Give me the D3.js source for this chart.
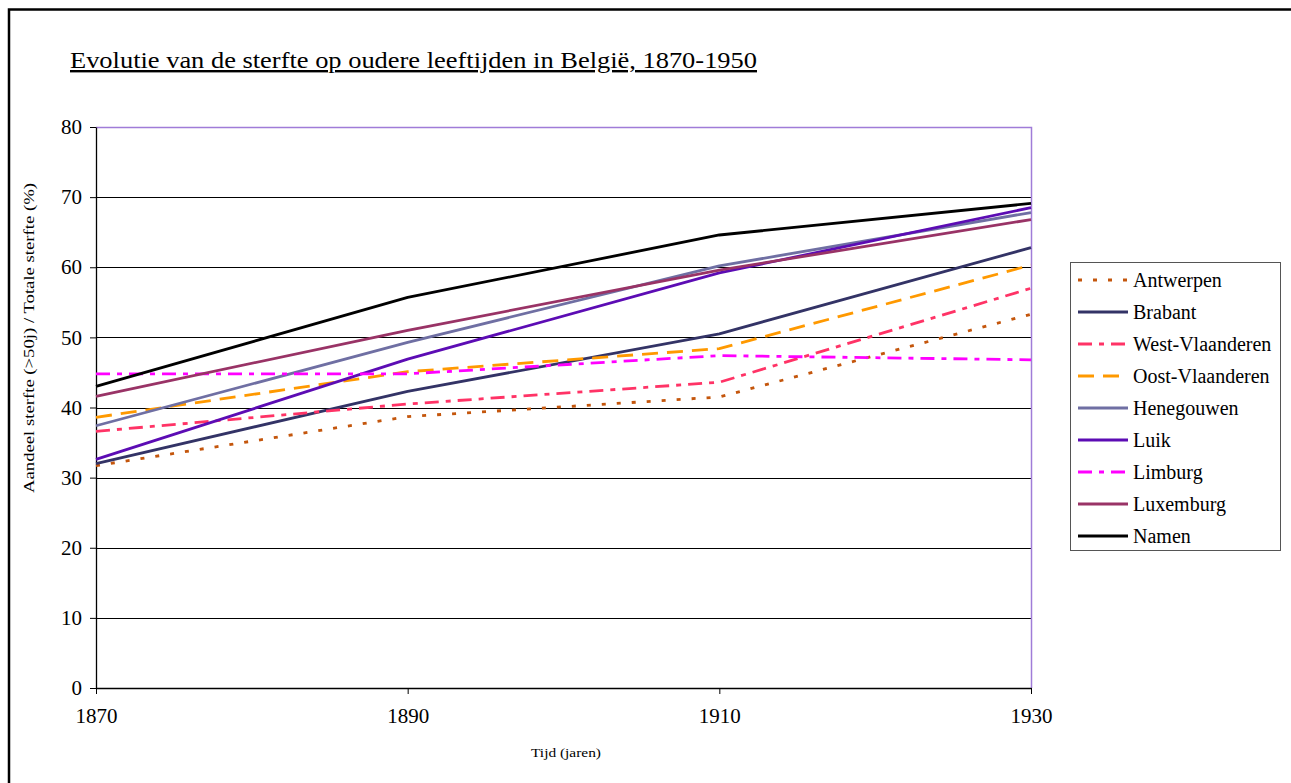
<!DOCTYPE html>
<html>
<head>
<meta charset="utf-8">
<script src="https://cdn.jsdelivr.net/npm/d3@7"></script>
<style>
  html, body { margin: 0; padding: 0; background: #fff; }
  svg { display: block; font-family: "Liberation Serif", "Times New Roman", serif; }
</style>
</head>
<body>
<svg id="chart" width="1291" height="783"></svg>
<script>
// Years on the horizontal axis
const years = [1870, 1890, 1910, 1930];
const yTicks = [0, 10, 20, 30, 40, 50, 60, 70, 80];

// Share of deaths above age 50 in total deaths (%), per province
const provinces = ["Antwerpen", "Brabant", "West-Vlaanderen", "Oost-Vlaanderen",
                   "Henegouwen", "Luik", "Limburg", "Luxemburg", "Namen"];
const antwerpen      = [31.7, 38.7, 41.5, 53.3];
const brabant        = [32.0, 42.3, 50.5, 62.8];
const westVlaanderen = [36.6, 40.5, 43.6, 57.0];
const oostVlaanderen = [38.6, 45.1, 48.4, 60.3];
const henegouwen     = [37.4, 49.3, 60.2, 67.8];
const luik           = [32.6, 46.9, 59.2, 68.5];
const limburg        = [44.8, 44.8, 47.4, 46.8];
const luxemburg      = [41.6, 51.0, 59.6, 66.8];
const namen          = [43.0, 55.7, 64.6, 69.1];

const seriesValues = [antwerpen, brabant, westVlaanderen, oostVlaanderen,
                      henegouwen, luik, limburg, luxemburg, namen];

// Stroke styles per province
const styles = [
  { color: "#c4560c", dash: "4,11" },
  { color: "#333366", dash: null },
  { color: "#ff3366", dash: "14,7,5,7" },
  { color: "#ff9900", dash: "16,9" },
  { color: "#6f6fa3", dash: null },
  { color: "#5c0cb4", dash: null },
  { color: "#ff00ff", dash: "14,7,5,7" },
  { color: "#993366", dash: null },
  { color: "#000000", dash: null }
];

const svg = d3.select("#chart");

// Outer frame
svg.append("rect")
  .attr("x", 9).attr("y", 9.5)
  .attr("width", 1300).attr("height", 800)
  .attr("fill", "none").attr("stroke", "#000").attr("stroke-width", 2.5);

// Title
svg.append("text")
  .attr("x", 70).attr("y", 68)
  .attr("font-size", 24)
  .attr("textLength", 687)
  .attr("lengthAdjust", "spacingAndGlyphs")
  .attr("text-decoration", "underline")
  .attr("fill", "#000")
  .text("Evolutie van de sterfte op oudere leeftijden in België, 1870-1950");

const plot = { left: 96, right: 1031, top: 127, bottom: 688 };

const x = d3.scalePoint().domain(years).range([plot.left, plot.right]);
const y = d3.scaleLinear().domain([0, 80]).range([plot.bottom, plot.top]);

// Horizontal gridlines
svg.append("g")
  .selectAll("line")
  .data(yTicks.filter(t => t > 0 && t < 80))
  .join("line")
  .attr("x1", plot.left).attr("x2", plot.right)
  .attr("y1", d => Math.round(y(d)) + 0.5).attr("y2", d => Math.round(y(d)) + 0.5)
  .attr("stroke", "#000").attr("stroke-width", 1.2);

// Plot area border: top and right edges
svg.append("path")
  .attr("d", `M${plot.left},${plot.top + 0.5}H${plot.right + 0.5}V${plot.bottom}`)
  .attr("fill", "none").attr("stroke", "#a07cd8").attr("stroke-width", 1.5);

// Y axis
const yAxis = svg.append("g")
  .attr("transform", `translate(${plot.left},0)`)
  .call(d3.axisLeft(y).tickValues(yTicks).tickSize(6).tickSizeOuter(0).tickPadding(8));
yAxis.select(".domain").attr("stroke", "#000").attr("stroke-width", 1.3);
yAxis.selectAll(".tick line").attr("stroke", "#000");
yAxis.selectAll(".tick text")
  .attr("font-family", "Liberation Serif, serif")
  .attr("font-size", 21).attr("fill", "#000");

// X axis
const xAxis = svg.append("g")
  .attr("transform", `translate(0,${plot.bottom})`)
  .call(d3.axisBottom(x).tickSize(6).tickSizeOuter(0).tickPadding(14));
xAxis.select(".domain").attr("stroke", "#000").attr("stroke-width", 1.5);
xAxis.selectAll(".tick line").attr("stroke", "#000");
xAxis.selectAll(".tick text")
  .attr("font-family", "Liberation Serif, serif")
  .attr("font-size", 21).attr("fill", "#000");

// Axis titles
svg.append("text")
  .attr("transform", `translate(34,338) rotate(-90)`)
  .attr("text-anchor", "middle")
  .attr("font-size", 14)
  .attr("textLength", 310)
  .attr("lengthAdjust", "spacingAndGlyphs")
  .attr("fill", "#000")
  .text("Aandeel sterfte (>50j) / Totale sterfte (%)");

svg.append("text")
  .attr("x", 566).attr("y", 757)
  .attr("text-anchor", "middle")
  .attr("font-size", 13)
  .attr("textLength", 70)
  .attr("lengthAdjust", "spacingAndGlyphs")
  .attr("fill", "#000")
  .text("Tijd (jaren)");

// Series lines
const line = d3.line()
  .x((d, i) => x(years[i]))
  .y(d => y(d));

svg.append("g")
  .selectAll("path")
  .data(seriesValues)
  .join("path")
  .attr("d", d => line(d))
  .attr("fill", "none")
  .attr("stroke", (d, i) => styles[i].color)
  .attr("stroke-width", 2.8)
  .attr("stroke-linejoin", "round")
  .attr("stroke-dasharray", (d, i) => styles[i].dash);

// Legend
const legend = svg.append("g");
legend.append("rect")
  .attr("x", 1070.5).attr("y", 262.5)
  .attr("width", 210).attr("height", 288)
  .attr("fill", "#fff").attr("stroke", "#555").attr("stroke-width", 1);

const items = legend.selectAll("g.item")
  .data(provinces)
  .join("g")
  .attr("class", "item")
  .attr("transform", (d, i) => `translate(0,${280 + i * 32})`);

items.append("line")
  .attr("x1", 1078).attr("x2", 1128)
  .attr("y1", 0).attr("y2", 0)
  .attr("stroke", (d, i) => styles[i].color)
  .attr("stroke-width", 2.8)
  .attr("stroke-dasharray", (d, i) => styles[i].dash);

items.append("text")
  .attr("x", 1133).attr("y", 7)
  .attr("font-size", 20)
  .attr("fill", "#000")
  .text(d => d);
</script>
</body>
</html>
